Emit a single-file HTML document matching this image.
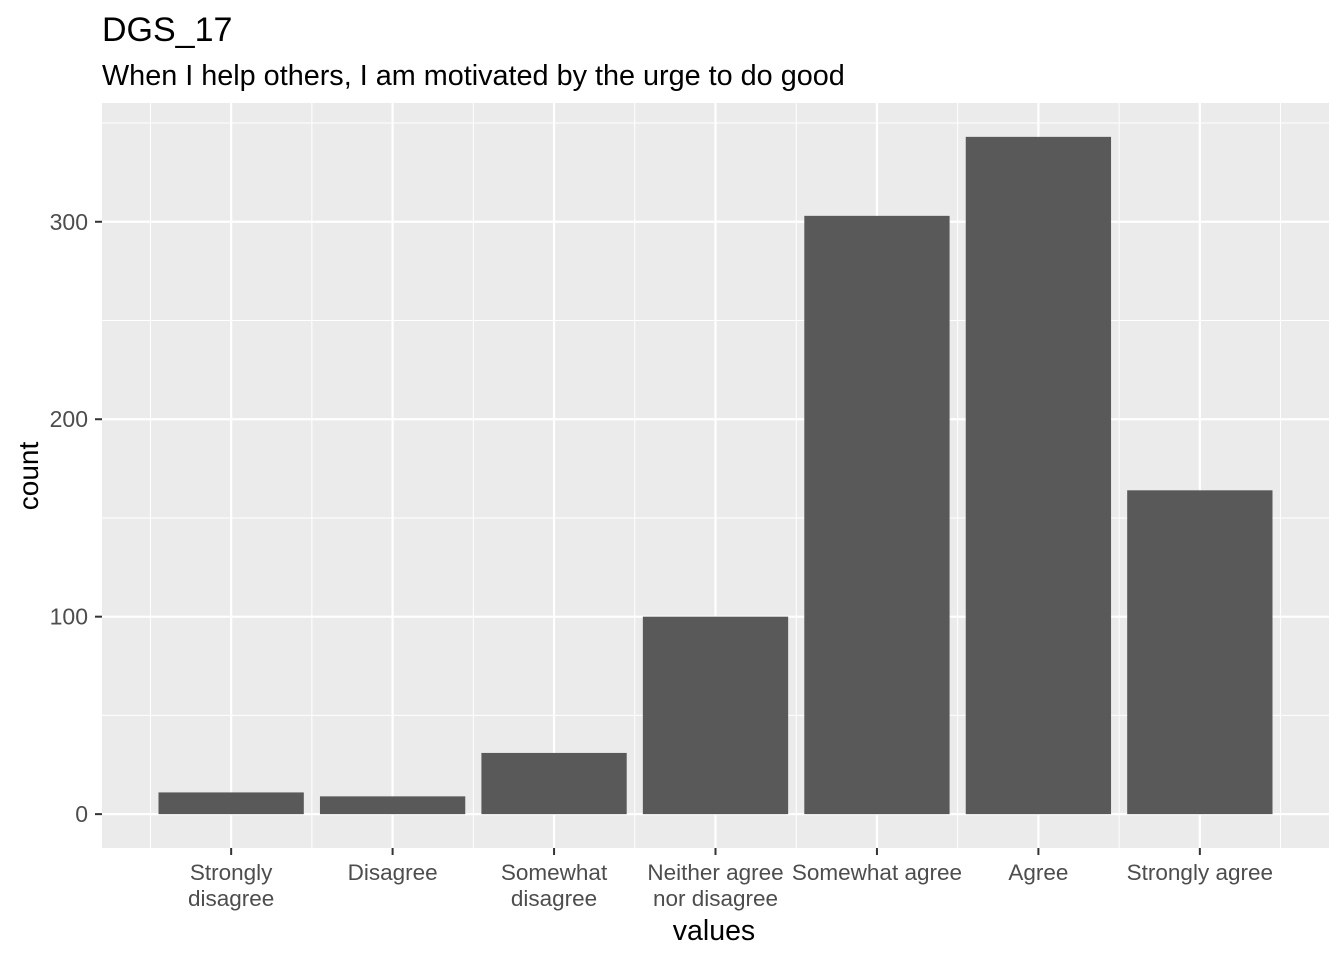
<!DOCTYPE html>
<html><head><meta charset="utf-8"><style>
body{margin:0;background:#fff;}
svg text{font-family:"Liberation Sans",Arial,sans-serif;}
</style></head><body>
<svg id="chart" width="1344" height="960" xmlns="http://www.w3.org/2000/svg">
<text x="102" y="41" font-size="34" fill="#000">DGS_17</text>
<text x="102" y="85" font-size="28.8" fill="#000">When I help others, I am motivated by the urge to do good</text>
<rect x="102" y="103" width="1227" height="745" fill="#ebebeb"/>
<g id="grid"></g><g id="bars"></g><g id="axes"></g>
<text transform="translate(38,476) rotate(-90)" text-anchor="middle" font-size="28" fill="#000">count</text>
<text x="714" y="940" text-anchor="middle" font-size="28.5" fill="#000">values</text>
</svg>
<script>
const categories=[["Strongly","disagree"],["Disagree"],["Somewhat","disagree"],["Neither agree","nor disagree"],["Somewhat agree"],["Agree"],["Strongly agree"]];
const counts=[11,9,31,100,303,343,164];
const yTicks=[0,100,200,300];
const NS="http://www.w3.org/2000/svg";
const px0=102,px1=1329,py0=103,py1=848;
const ymax=Math.max(...counts)*1.05;
const ylo=-Math.max(...counts)*0.05;
function y(v){return py1-(v-ylo)/(ymax-ylo)*(py1-py0);}
const n=categories.length, step=(px1-px0)/(n+0.6);
function x(i){return px0+step*(0.8+i);}
function mk(tag,attrs,parent){const e=document.createElementNS(NS,tag);for(const k in attrs)e.setAttribute(k,attrs[k]);document.getElementById(parent).appendChild(e);return e;}
for(let k=0;k<yTicks.length;k++){
 const v=yTicks[k];
 const g=mk('line',{x1:px0,x2:px1,y1:y(v),y2:y(v),stroke:'#fff','stroke-width':2.2},'grid');
 
 
 const m=mk('line',{x1:px0,x2:px1,y1:y(v+50),y2:y(v+50),stroke:'#fff','stroke-width':1},'grid');
 
 
 const t=mk('text',{x:88,y:y(v)+8,'text-anchor':'end','font-size':23,fill:'#4d4d4d'},'axes');t.textContent=v;
 
 
 const tk=mk('line',{x1:95,x2:102,y1:y(v),y2:y(v),stroke:'#333','stroke-width':2},'axes');
 
 
}
for(let i=0;i<=n;i++){
 const m=mk('line',{x1:x(i)-step/2,x2:x(i)-step/2,y1:py0,y2:py1,stroke:'#fff','stroke-width':1},'grid');
 
 
}
const bw=step*0.9;
for(let i=0;i<n;i++){
 const g=mk('line',{x1:x(i),x2:x(i),y1:py0,y2:py1,stroke:'#fff','stroke-width':2.2},'grid');
 
 
 const b=mk('rect',{x:x(i)-bw/2,y:y(counts[i]),width:bw,height:y(0)-y(counts[i]),fill:'#595959'},'bars');
 
 
 const tk=mk('line',{x1:x(i),x2:x(i),y1:py1,y2:py1+7,stroke:'#333','stroke-width':2},'axes');
 
 
 categories[i].forEach((l,j)=>{
  const t=mk('text',{x:x(i),y:880+j*26,'text-anchor':'middle','font-size':22.5,fill:'#4d4d4d'},'axes');t.textContent=l;
  
  
 });
}
</script>
</body></html>
